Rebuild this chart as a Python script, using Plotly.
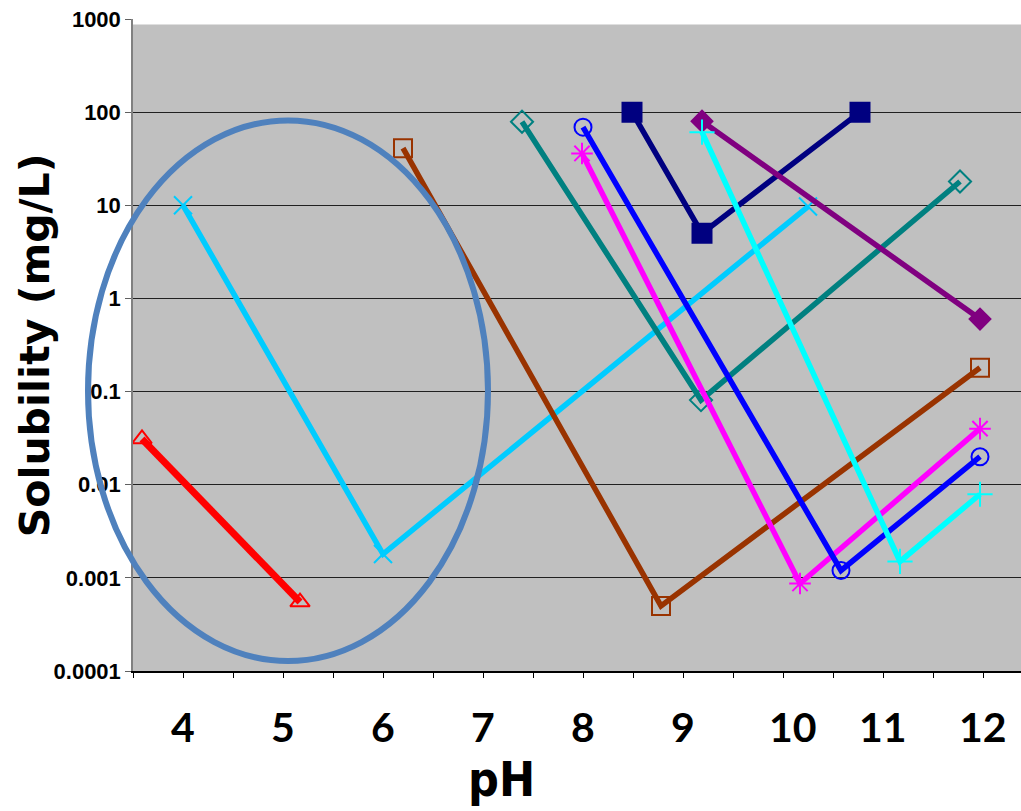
import plotly.graph_objects as go

# ---------------- data ----------------
red_x = [3.59, 5.17]
red_y = [0.031, 0.00055]

skyblue_x = [4.0, 6.0, 10.25]
skyblue_y = [10, 0.0018, 9.7]

brown_x = [6.2, 8.78, 11.97]
brown_y = [41, 0.0005, 0.18]

teal_x = [7.39, 9.18, 11.77]
teal_y = [79, 0.081, 18]

magenta_x = [7.99, 10.17, 11.97]
magenta_y = [36, 0.00087, 0.040]

blue_x = [8.0, 10.58, 11.97]
blue_y = [69, 0.0012, 0.020]

navy_x = [8.49, 9.19, 10.77]
navy_y = [100, 5.0, 100]

purple_x = [9.19, 11.97]
purple_y = [80, 0.60]

cyan_x = [9.19, 11.17, 11.97]
cyan_y = [61, 0.0015, 0.0079]

x_tick_vals = [4, 5, 6, 7, 8, 9, 10.1, 11, 12]
x_tick_text = ["4", "5", "6", "7", "8", "9", "10", "11", "12"]
y_tick_vals = [0.0001, 0.001, 0.01, 0.1, 1, 10, 100, 1000]
y_tick_text = ["0.0001", "0.001", "0.01", "0.1", "1", "10", "100", "1000"]

# ---------------- figure ----------------
fig = go.Figure()

series = [
    (red_x, red_y, "#FF0000", 7, "triangle-up-open", 17),
    (skyblue_x, skyblue_y, "#00CCFF", 5.5, "x-thin-open", 18),
    (brown_x, brown_y, "#993300", 5.5, "square-open", 18),
    (teal_x, teal_y, "#008080", 5.5, "diamond-open", 17),
    (magenta_x, magenta_y, "#FF00FF", 5.5, "asterisk-open", 18),
    (blue_x, blue_y, "#0000FF", 5.5, "circle-open", 17),
    (navy_x, navy_y, "#000080", 5.5, "square", 19),
    (purple_x, purple_y, "#800080", 5.5, "diamond", 16),
    (cyan_x, cyan_y, "#00FFFF", 5.5, "cross-thin-open", 18),
]
for xs, ys, col, lw, sym, ms in series:
    fig.add_trace(go.Scatter(
        x=xs, y=ys, mode="lines+markers",
        line=dict(color=col, width=lw),
        marker=dict(symbol=sym, size=ms, color=col,
                    line=dict(color=col, width=2)),
        showlegend=False, cliponaxis=False,
    ))

# gray plotting area (starts slightly below the 1000 tick)
fig.add_shape(type="rect", xref="paper", yref="paper",
              x0=0, x1=1, y0=0, y1=(671 - 24) / 652.5,
              fillcolor="#C0C0C0", line=dict(width=0), layer="below")

# ellipse highlight
fig.add_shape(type="circle", xref="paper", yref="paper",
              x0=(88 - 133) / 888, x1=(488 - 133) / 888,
              y0=(671 - 661) / 652.5, y1=(671 - 120) / 652.5,
              line=dict(color="#4F81BD", width=6), layer="above")

# x tick labels (placed like the original text boxes)
for v, t in zip(x_tick_vals, x_tick_text):
    fig.add_annotation(x=v, y=(671 - 727) / 652.5, xref="x", yref="paper", text=t,
                       showarrow=False, xanchor="center", yanchor="middle",
                       font=dict(family="Lato", size=41, color="black", weight="bold"))

fig.add_annotation(x=(501 - 133) / 888, y=(671 - 779) / 652.5, xref="paper", yref="paper",
                   text="pH", showarrow=False, xanchor="center", yanchor="middle",
                   font=dict(family="DejaVu Sans Condensed, Roboto Condensed, Roboto", size=48,
                             color="black", weight="bold"))

fig.add_annotation(x=-0.11, y=0.5, xref="paper", yref="paper",
                   text="Solubility (mg/L)", textangle=-90, showarrow=False,
                   xanchor="center", yanchor="middle",
                   font=dict(family="DejaVu Sans", size=41, color="black", weight="bold"))

fig.update_layout(
    width=1021, height=811,
    margin=dict(l=133, r=0, t=18.5, b=140),
    paper_bgcolor="white", plot_bgcolor="white",
    xaxis=dict(range=[3.5, 12.38], showgrid=False, zeroline=False,
               tick0=4, dtick=0.5, ticks="outside", ticklen=5, tickwidth=1,
               tickcolor="black", showticklabels=False,
               showline=True, linecolor="black", linewidth=1.5),
    yaxis=dict(type="log", range=[-4, 3],
               tickvals=y_tick_vals, ticktext=y_tick_text,
               ticks="outside", ticklen=6, tickcolor="#606060",
               showgrid=True, gridcolor="#202020", gridwidth=1,
               zeroline=False, showline=True, linecolor="#808080", linewidth=1.5,
               tickfont=dict(family="Liberation Sans", size=22, color="black", weight="bold")),
)

fig.write_html("out.html")
